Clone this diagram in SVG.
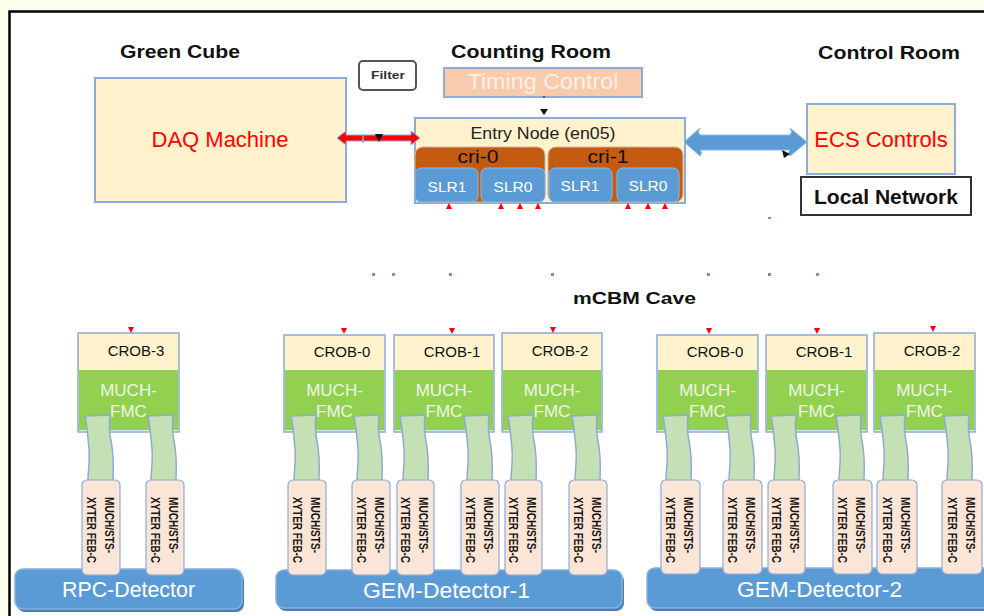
<svg xmlns="http://www.w3.org/2000/svg" xmlns:xlink="http://www.w3.org/1999/xlink" width="984" height="616" viewBox="0 0 984 616">
  <defs>
    <style>
      text { font-family: "Liberation Sans", Arial, sans-serif; }
      .title { font-weight: bold; font-size: 19px; fill: #111; text-anchor: middle; }
      .box { fill: #fff2cc; stroke: #8faadc; stroke-width: 2; }
      .red { fill: #ff0000; font-size: 22px; text-anchor: middle; }
      .cri { fill: #c55a11; stroke: #c9b8a8; stroke-width: 1; }
      .slr { fill: #5b9bd5; stroke: #8db8e6; stroke-width: 1; }
      .slrt { fill: #ffffff; font-size: 15.5px; text-anchor: middle; }
      .crob { fill: #dfe6ee; stroke: #8faadc; stroke-width: 1.5; }
      .crobh { fill: #fff2cc; }
      .fmc { fill: #92d050; }
      .crobt { fill: #111; font-size: 15px; text-anchor: middle; }
      .fmct { fill: #eef7e6; font-size: 17px; text-anchor: middle; }
      .cable { fill: #c5e0b4; stroke: #8faadc; stroke-width: 1.5; }
      .feb { fill: #fbe5d6; stroke: #8faadc; stroke-width: 1.2; }
      .febt { fill: #151515; font-size: 12px; font-weight: bold; }
      .det { fill: #5b9bd5; stroke: #86b1df; stroke-width: 1.5; }
      .detsh { fill: #4a7db3; }
      .dett { fill: #ffffff; font-size: 21.5px; text-anchor: middle; }
      .mk { fill: #ff0000; }
      .dot { fill: #c47a7a; }
    </style>
    <!-- wavy ribbon cable, about 29 wide x 66 tall -->
    <path id="cable" d="M0,1 L25,0 C24,8 24,16 26,26 C28,36 29,44 28,66 L3,66 C3,56 5,46 4,34 C3,22 2,10 0,1 Z"/>
  </defs>

  <!-- page and frame -->
  <rect x="0" y="0" width="984" height="616" fill="#fdfdee"/>
  <rect x="9.5" y="11.5" width="990" height="620" fill="#ffffff" stroke="#000" stroke-width="2.5"/>

  <!-- area titles -->
  <g id="titles">
    <text class="title" x="180" y="58" textLength="120" lengthAdjust="spacingAndGlyphs">Green Cube</text>
    <text class="title" x="531" y="58" textLength="160" lengthAdjust="spacingAndGlyphs">Counting Room</text>
    <text class="title" x="889" y="59" textLength="142" lengthAdjust="spacingAndGlyphs">Control Room</text>
    <text x="634.5" y="304" font-weight="bold" font-size="17" fill="#111" text-anchor="middle" textLength="123" lengthAdjust="spacingAndGlyphs">mCBM Cave</text>
  </g>

  <!-- top row nodes -->
  <g id="daq-machine">
    <rect class="box" x="95" y="78" width="251" height="124"/>
    <text class="red" x="220" y="147">DAQ Machine</text>
  </g>

  <g id="filter">
    <rect x="359" y="61" width="57" height="29" rx="4" fill="#fff" stroke="#555" stroke-width="2"/>
    <text x="388" y="79" font-size="11" font-weight="bold" fill="#333" text-anchor="middle" textLength="34" lengthAdjust="spacingAndGlyphs">Filter</text>
  </g>

  <g id="timing-control">
    <rect x="444" y="68" width="198" height="29" fill="#f8cbad" stroke="#8faadc" stroke-width="2"/>
    <text x="543" y="89" font-size="22.5" fill="#fdf0e8" text-anchor="middle" textLength="151" lengthAdjust="spacingAndGlyphs">Timing Control</text>
  </g>

  <g id="entry-node">
    <rect class="box" x="415" y="118" width="270" height="85"/>
    <text x="543" y="139" font-size="17" fill="#222" text-anchor="middle" textLength="145" lengthAdjust="spacingAndGlyphs">Entry Node (en05)</text>
    <g id="cri-0">
      <rect class="cri" x="415" y="147" width="130" height="55" rx="8"/>
      <text x="478" y="163" font-size="18" fill="#111" text-anchor="middle" textLength="41" lengthAdjust="spacingAndGlyphs">cri-0</text>
      <rect class="slr" x="415" y="168" width="63" height="34" rx="6"/>
      <text class="slrt" x="447" y="192">SLR1</text>
      <rect class="slr" x="481" y="168" width="64" height="34" rx="6"/>
      <text class="slrt" x="513" y="192">SLR0</text>
    </g>
    <g id="cri-1">
      <rect class="cri" x="548" y="147" width="135" height="55" rx="8"/>
      <text x="608" y="163" font-size="18" fill="#111" text-anchor="middle" textLength="41" lengthAdjust="spacingAndGlyphs">cri-1</text>
      <rect class="slr" x="549" y="168" width="63" height="34" rx="6"/>
      <text class="slrt" x="580" y="191">SLR1</text>
      <rect class="slr" x="617" y="168" width="62" height="34" rx="6"/>
      <text class="slrt" x="648" y="191">SLR0</text>
    </g>
  </g>

  <g id="ecs-controls">
    <rect class="box" x="807" y="104" width="148" height="70"/>
    <text class="red" x="881" y="147" font-size="21">ECS Controls</text>
  </g>

  <g id="local-network">
    <rect x="801" y="177" width="170" height="38" fill="#fff" stroke="#333" stroke-width="2"/>
    <text x="886" y="204" font-size="20" font-weight="bold" fill="#111" text-anchor="middle" textLength="144" lengthAdjust="spacingAndGlyphs">Local Network</text>
  </g>

  <!-- detectors -->
  <g id="rpc-detector">
    <rect class="detsh" x="17" y="572" width="227" height="40" rx="8"/>
    <rect class="det" x="15" y="569" width="227" height="40" rx="8"/>
    <text class="dett" x="128.5" y="597" textLength="133" lengthAdjust="spacingAndGlyphs">RPC-Detector</text>
  </g>
  <g id="gem-detector-1">
    <rect class="detsh" x="278" y="573" width="346" height="38" rx="8"/>
    <rect class="det" x="276" y="570" width="346" height="38" rx="8"/>
    <text class="dett" x="446.5" y="598" textLength="167" lengthAdjust="spacingAndGlyphs">GEM-Detector-1</text>
  </g>
  <g id="gem-detector-2">
    <rect class="detsh" x="649" y="571" width="345" height="40" rx="8"/>
    <rect class="det" x="647" y="568" width="345" height="40" rx="8"/>
    <text class="dett" x="819.5" y="597" textLength="165" lengthAdjust="spacingAndGlyphs">GEM-Detector-2</text>
  </g>

  <!-- readout boards -->
  <g id="crob-3-rpc">
    <rect class="crob" x="78" y="333" width="101" height="99"/>
    <rect class="crobh" x="79" y="334" width="99" height="36"/>
    <rect class="fmc" x="79" y="370" width="99" height="60"/>
    <text class="crobt" x="136" y="356">CROB-3</text>
    <text class="fmct" x="128.5" y="396">MUCH-</text>
    <text class="fmct" x="128.5" y="417">FMC</text>
  </g>
  <g id="crob-0-gem1">
    <rect class="crob" x="284" y="335" width="101" height="97"/>
    <rect class="crobh" x="285" y="336" width="99" height="34"/>
    <rect class="fmc" x="285" y="370" width="99" height="60"/>
    <text class="crobt" x="342" y="357">CROB-0</text>
    <text class="fmct" x="334.5" y="396">MUCH-</text>
    <text class="fmct" x="334.5" y="417">FMC</text>
  </g>
  <g id="crob-1-gem1">
    <rect class="crob" x="394" y="335" width="100" height="97"/>
    <rect class="crobh" x="395" y="336" width="98" height="34"/>
    <rect class="fmc" x="395" y="370" width="98" height="60"/>
    <text class="crobt" x="452" y="357">CROB-1</text>
    <text class="fmct" x="444" y="396">MUCH-</text>
    <text class="fmct" x="444" y="417">FMC</text>
  </g>
  <g id="crob-2-gem1">
    <rect class="crob" x="502" y="333" width="100" height="99"/>
    <rect class="crobh" x="503" y="334" width="98" height="36"/>
    <rect class="fmc" x="503" y="370" width="98" height="60"/>
    <text class="crobt" x="560" y="356">CROB-2</text>
    <text class="fmct" x="552" y="396">MUCH-</text>
    <text class="fmct" x="552" y="417">FMC</text>
  </g>
  <g id="crob-0-gem2">
    <rect class="crob" x="657" y="335" width="101" height="97"/>
    <rect class="crobh" x="658" y="336" width="99" height="34"/>
    <rect class="fmc" x="658" y="370" width="99" height="60"/>
    <text class="crobt" x="715" y="357">CROB-0</text>
    <text class="fmct" x="707.5" y="396">MUCH-</text>
    <text class="fmct" x="707.5" y="417">FMC</text>
  </g>
  <g id="crob-1-gem2">
    <rect class="crob" x="766" y="335" width="101" height="97"/>
    <rect class="crobh" x="767" y="336" width="99" height="34"/>
    <rect class="fmc" x="767" y="370" width="99" height="60"/>
    <text class="crobt" x="824" y="357">CROB-1</text>
    <text class="fmct" x="816.5" y="396">MUCH-</text>
    <text class="fmct" x="816.5" y="417">FMC</text>
  </g>
  <g id="crob-2-gem2">
    <rect class="crob" x="874" y="333" width="101" height="99"/>
    <rect class="crobh" x="875" y="334" width="99" height="36"/>
    <rect class="fmc" x="875" y="370" width="99" height="60"/>
    <text class="crobt" x="932" y="356">CROB-2</text>
    <text class="fmct" x="924.5" y="396">MUCH-</text>
    <text class="fmct" x="924.5" y="417">FMC</text>
  </g>

  <!-- connectors: links, markers and ribbon cables -->
  <g id="connectors">
    <!-- DAQ <-> entry node -->
    <polygon points="337,138 346,131 346,135 411,135 411,131 420,138 411,145 411,141 346,141 346,145" fill="#ff0000" stroke="#8faadc" stroke-width="1"/>
    <line x1="363" y1="134" x2="363" y2="143" stroke="#8faadc" stroke-width="1.5"/>
    <polygon points="375,134 383,134 379,142" fill="#111"/>
    <!-- timing control -> entry node -->
    <rect x="543" y="96" width="2" height="2" fill="#555"/>
    <polygon points="540,109 548,109 544,115" fill="#111"/>
    <!-- entry node <-> ECS -->
    <path d="M684,142 L700,128 Q697,132 700,135 L790,135 Q793,132 790,128 L807,142 L790,156 Q787,153 790,150 L700,150 Q703,153 700,156 Z" fill="#5b9bd5" stroke="#8db8e6" stroke-width="1"/>
    <polygon points="782,150 790,154 784,158" fill="#111"/>

    <!-- link ends at the SLRs -->
    <polygon class="mk" points="446,209 452,209 449,203"/>
    <polygon class="mk" points="498,209 504,209 501,203"/>
    <polygon class="mk" points="517,209 523,209 520,203"/>
    <polygon class="mk" points="535,209 541,209 538,203"/>
    <polygon class="mk" points="625,209 631,209 628,203"/>
    <polygon class="mk" points="645,209 651,209 648,203"/>
    <polygon class="mk" points="662,209 668,209 665,203"/>
    <!-- link ends at the CROBs -->
    <polygon class="mk" points="128,327 134,327 131,333"/>
    <polygon class="mk" points="341,328 347,328 344,334"/>
    <polygon class="mk" points="449,328 455,328 452,334"/>
    <polygon class="mk" points="550,327 556,327 553,333"/>
    <polygon class="mk" points="706,328 712,328 709,334"/>
    <polygon class="mk" points="814,328 820,328 817,334"/>
    <polygon class="mk" points="930,326 936,326 933,332"/>
    <!-- link waypoints -->
    <rect class="dot" x="768" y="217" width="3" height="2"/>
    <rect class="dot" x="372" y="273" width="3" height="3"/>
    <rect class="dot" x="392" y="273" width="3" height="3"/>
    <rect class="dot" x="449" y="273" width="3" height="3"/>
    <rect class="dot" x="551" y="273" width="3" height="3"/>
    <rect class="dot" x="707" y="273" width="3" height="3"/>
    <rect x="768" y="273" width="3" height="3" fill="#888"/>
    <rect class="dot" x="816" y="273" width="3" height="3"/>

    <!-- ribbon cables FMC -> FEB -->
    <use xlink:href="#cable" class="cable" x="85" y="415"/>
    <use xlink:href="#cable" class="cable" x="148" y="415"/>
    <use xlink:href="#cable" class="cable" x="291" y="415"/>
    <use xlink:href="#cable" class="cable" x="354" y="415"/>
    <use xlink:href="#cable" class="cable" x="400" y="415"/>
    <use xlink:href="#cable" class="cable" x="464" y="415"/>
    <use xlink:href="#cable" class="cable" x="508" y="415"/>
    <use xlink:href="#cable" class="cable" x="572" y="415"/>
    <use xlink:href="#cable" class="cable" x="663" y="415"/>
    <use xlink:href="#cable" class="cable" x="726" y="415"/>
    <use xlink:href="#cable" class="cable" x="771" y="415"/>
    <use xlink:href="#cable" class="cable" x="836" y="415"/>
    <use xlink:href="#cable" class="cable" x="880" y="415"/>
    <use xlink:href="#cable" class="cable" x="944" y="415"/>
  </g>

  <!-- front-end boards -->
  <g id="feb-rpc-a">
    <rect class="feb" x="82" y="480" width="38" height="95" rx="5"/>
    <g transform="translate(101,497) rotate(90)">
      <text class="febt" x="0" y="-3.5" textLength="56" lengthAdjust="spacingAndGlyphs">MUCH/STS-</text>
      <text class="febt" x="0" y="14.5" textLength="66" lengthAdjust="spacingAndGlyphs">XYTER FEB-C</text>
    </g>
  </g>
  <g id="feb-rpc-b">
    <rect class="feb" x="146" y="480" width="38" height="95" rx="5"/>
    <g transform="translate(165,497) rotate(90)">
      <text class="febt" x="0" y="-3.5" textLength="56" lengthAdjust="spacingAndGlyphs">MUCH/STS-</text>
      <text class="febt" x="0" y="14.5" textLength="66" lengthAdjust="spacingAndGlyphs">XYTER FEB-C</text>
    </g>
  </g>
  <g id="feb-gem1-0a">
    <rect class="feb" x="288" y="480" width="38" height="95" rx="5"/>
    <g transform="translate(307,497) rotate(90)">
      <text class="febt" x="0" y="-3.5" textLength="56" lengthAdjust="spacingAndGlyphs">MUCH/STS-</text>
      <text class="febt" x="0" y="14.5" textLength="66" lengthAdjust="spacingAndGlyphs">XYTER FEB-C</text>
    </g>
  </g>
  <g id="feb-gem1-0b">
    <rect class="feb" x="352" y="480" width="38" height="95" rx="5"/>
    <g transform="translate(371,497) rotate(90)">
      <text class="febt" x="0" y="-3.5" textLength="56" lengthAdjust="spacingAndGlyphs">MUCH/STS-</text>
      <text class="febt" x="0" y="14.5" textLength="66" lengthAdjust="spacingAndGlyphs">XYTER FEB-C</text>
    </g>
  </g>
  <g id="feb-gem1-1a">
    <rect class="feb" x="397" y="480" width="37" height="95" rx="5"/>
    <g transform="translate(415.5,497) rotate(90)">
      <text class="febt" x="0" y="-3.5" textLength="56" lengthAdjust="spacingAndGlyphs">MUCH/STS-</text>
      <text class="febt" x="0" y="14.5" textLength="66" lengthAdjust="spacingAndGlyphs">XYTER FEB-C</text>
    </g>
  </g>
  <g id="feb-gem1-1b">
    <rect class="feb" x="461" y="480" width="38" height="95" rx="5"/>
    <g transform="translate(480,497) rotate(90)">
      <text class="febt" x="0" y="-3.5" textLength="56" lengthAdjust="spacingAndGlyphs">MUCH/STS-</text>
      <text class="febt" x="0" y="14.5" textLength="66" lengthAdjust="spacingAndGlyphs">XYTER FEB-C</text>
    </g>
  </g>
  <g id="feb-gem1-2a">
    <rect class="feb" x="505" y="480" width="37" height="95" rx="5"/>
    <g transform="translate(523.5,497) rotate(90)">
      <text class="febt" x="0" y="-3.5" textLength="56" lengthAdjust="spacingAndGlyphs">MUCH/STS-</text>
      <text class="febt" x="0" y="14.5" textLength="66" lengthAdjust="spacingAndGlyphs">XYTER FEB-C</text>
    </g>
  </g>
  <g id="feb-gem1-2b">
    <rect class="feb" x="569" y="480" width="38" height="95" rx="5"/>
    <g transform="translate(588,497) rotate(90)">
      <text class="febt" x="0" y="-3.5" textLength="56" lengthAdjust="spacingAndGlyphs">MUCH/STS-</text>
      <text class="febt" x="0" y="14.5" textLength="66" lengthAdjust="spacingAndGlyphs">XYTER FEB-C</text>
    </g>
  </g>
  <g id="feb-gem2-0a">
    <rect class="feb" x="661" y="480" width="39" height="94" rx="5"/>
    <g transform="translate(680.5,497) rotate(90)">
      <text class="febt" x="0" y="-3.5" textLength="56" lengthAdjust="spacingAndGlyphs">MUCH/STS-</text>
      <text class="febt" x="0" y="14.5" textLength="66" lengthAdjust="spacingAndGlyphs">XYTER FEB-C</text>
    </g>
  </g>
  <g id="feb-gem2-0b">
    <rect class="feb" x="723" y="480" width="39" height="94" rx="5"/>
    <g transform="translate(742.5,497) rotate(90)">
      <text class="febt" x="0" y="-3.5" textLength="56" lengthAdjust="spacingAndGlyphs">MUCH/STS-</text>
      <text class="febt" x="0" y="14.5" textLength="66" lengthAdjust="spacingAndGlyphs">XYTER FEB-C</text>
    </g>
  </g>
  <g id="feb-gem2-1a">
    <rect class="feb" x="768" y="480" width="37" height="94" rx="5"/>
    <g transform="translate(786.5,497) rotate(90)">
      <text class="febt" x="0" y="-3.5" textLength="56" lengthAdjust="spacingAndGlyphs">MUCH/STS-</text>
      <text class="febt" x="0" y="14.5" textLength="66" lengthAdjust="spacingAndGlyphs">XYTER FEB-C</text>
    </g>
  </g>
  <g id="feb-gem2-1b">
    <rect class="feb" x="833" y="480" width="39" height="94" rx="5"/>
    <g transform="translate(852.5,497) rotate(90)">
      <text class="febt" x="0" y="-3.5" textLength="56" lengthAdjust="spacingAndGlyphs">MUCH/STS-</text>
      <text class="febt" x="0" y="14.5" textLength="66" lengthAdjust="spacingAndGlyphs">XYTER FEB-C</text>
    </g>
  </g>
  <g id="feb-gem2-2a">
    <rect class="feb" x="877" y="480" width="40" height="94" rx="5"/>
    <g transform="translate(897,497) rotate(90)">
      <text class="febt" x="0" y="-3.5" textLength="56" lengthAdjust="spacingAndGlyphs">MUCH/STS-</text>
      <text class="febt" x="0" y="14.5" textLength="66" lengthAdjust="spacingAndGlyphs">XYTER FEB-C</text>
    </g>
  </g>
  <g id="feb-gem2-2b">
    <rect class="feb" x="942" y="480" width="40" height="94" rx="5"/>
    <g transform="translate(962,497) rotate(90)">
      <text class="febt" x="0" y="-3.5" textLength="56" lengthAdjust="spacingAndGlyphs">MUCH/STS-</text>
      <text class="febt" x="0" y="14.5" textLength="66" lengthAdjust="spacingAndGlyphs">XYTER FEB-C</text>
    </g>
  </g>
</svg>
